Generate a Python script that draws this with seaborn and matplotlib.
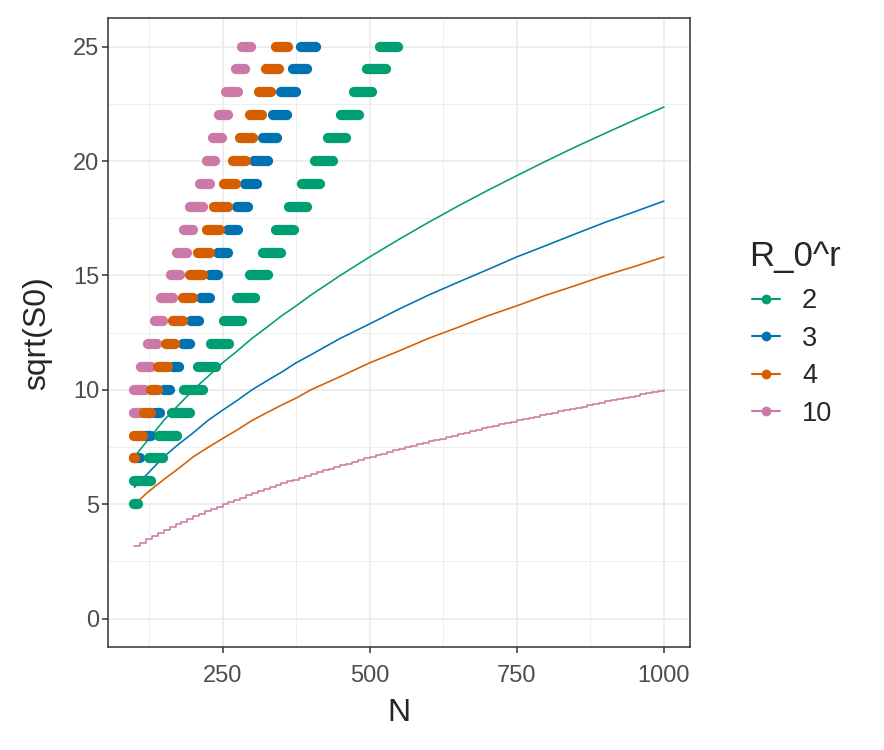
import numpy as np
import pandas as pd
import seaborn as sns
import matplotlib.pyplot as plt
from matplotlib.lines import Line2D
from matplotlib.ticker import MultipleLocator, FixedLocator

# colours per R_0^r level
r_levels = ["2", "3", "4", "10"]
colors = {"2": "#009E73", "3": "#0072B2", "4": "#D55E00", "10": "#CC79A7"}

# curves sqrt(S0) vs N
n_curve = [100, 125, 150, 175, 200, 225, 250, 275, 300, 325, 350, 375, 400, 450, 500,
           550, 600, 650, 700, 750, 800, 850, 900, 950, 1000]
curve_2 = [7.07, 7.87, 8.66, 9.33, 10.00, 10.58, 11.18, 11.70, 12.25, 12.73, 13.23,
           13.67, 14.14, 15.00, 15.81, 16.58, 17.32, 18.03, 18.71, 19.36, 20.00, 20.62,
           21.21, 21.79, 22.36]
curve_3 = [5.74, 6.40, 7.07, 7.62, 8.12, 8.66, 9.11, 9.54, 10.00, 10.39, 10.77, 11.18,
           11.53, 12.25, 12.88, 13.53, 14.14, 14.70, 15.25, 15.81, 16.31, 16.82, 17.32,
           17.78, 18.25]
curve_4 = [5.00, 5.57, 6.08, 6.56, 7.07, 7.48, 7.87, 8.25, 8.66, 9.00, 9.33, 9.64,
           10.00, 10.58, 11.18, 11.70, 12.25, 12.73, 13.23, 13.67, 14.14, 14.56, 15.00,
           15.39, 15.81]
# the R=10 curve is a staircase, one step every 10 N
n_step = list(range(100, 1001, 10))
curve_10 = [3.16, 3.32, 3.46, 3.61, 3.74, 3.87, 4.00, 4.12, 4.24, 4.36, 4.47, 4.58, 4.69,
            4.80, 4.90, 5.00, 5.10, 5.20, 5.29, 5.39, 5.48, 5.57, 5.66, 5.74, 5.83, 5.92,
            6.00, 6.08, 6.16, 6.24, 6.32, 6.40, 6.48, 6.56, 6.63, 6.71, 6.78, 6.86, 6.93,
            7.00, 7.07, 7.14, 7.21, 7.28, 7.35, 7.42, 7.48, 7.55, 7.62, 7.68, 7.75, 7.81,
            7.87, 7.94, 8.00, 8.06, 8.12, 8.19, 8.25, 8.31, 8.37, 8.43, 8.49, 8.54, 8.60,
            8.66, 8.72, 8.77, 8.83, 8.89, 8.94, 9.00, 9.06, 9.11, 9.17, 9.22, 9.27, 9.33,
            9.38, 9.43, 9.49, 9.54, 9.59, 9.64, 9.70, 9.75, 9.80, 9.85, 9.90, 9.95, 10.00]

# runs of points: sqrt(S0) level, first N, last N
k_2 = list(range(5, 26))
start_2 = [100, 100, 125, 142, 164, 185, 208, 230, 252, 274, 296, 318, 341, 363, 385,
           407, 429, 451, 473, 496, 517]
end_2 = [106, 128, 149, 172, 194, 216, 239, 261, 283, 305, 327, 349, 371, 393, 415,
         438, 460, 482, 504, 527, 548]
k_3 = list(range(7, 26))
start_3 = [100, 118, 135, 151, 166, 182, 197, 214, 228, 242, 259, 274, 288, 304, 318,
           335, 350, 369, 383]
end_3 = [109, 128, 143, 160, 176, 195, 210, 228, 243, 260, 276, 294, 309, 327, 342,
         360, 375, 394, 409]
k_4 = list(range(7, 26))
start_4 = [100, 100, 117, 128, 140, 153, 165, 182, 194, 208, 224, 236, 252, 268, 280,
           296, 312, 324, 340]
end_4 = [101, 115, 129, 141, 157, 169, 183, 200, 216, 229, 246, 260, 273, 289, 302,
         317, 333, 346, 362]
k_10 = list(range(9, 26))
start_10 = [100, 100, 112, 123, 135, 145, 162, 173, 185, 195, 212, 223, 234, 244, 256,
            272, 283]
end_10 = [109, 118, 128, 138, 149, 166, 178, 189, 199, 217, 228, 237, 249, 260, 277,
          288, 299]

runs = {"2": (k_2, start_2, end_2), "3": (k_3, start_3, end_3),
        "4": (k_4, start_4, end_4), "10": (k_10, start_10, end_10)}

sns.set_theme(style="white")
plt.rcParams["font.family"] = ["Liberation Sans", "DejaVu Sans"]

fig, ax = plt.subplots(figsize=(8.84, 7.5), dpi=100)
fig.subplots_adjust(left=0.122, right=0.781, top=0.976, bottom=0.137)

df_curve = pd.DataFrame({
    "N": n_curve * 3,
    "y": curve_2 + curve_3 + curve_4,
    "R": ["2"] * len(n_curve) + ["3"] * len(n_curve) + ["4"] * len(n_curve),
})
sns.lineplot(data=df_curve, x="N", y="y", hue="R", palette=colors, linewidth=1.15,
             legend=False, ax=ax, zorder=3)
sns.lineplot(x=n_step, y=curve_10, color=colors["10"], linewidth=1.15,
             drawstyle="steps-post", ax=ax, zorder=3)

# thick rounded runs of points
for r in ["3", "2", "10", "4"]:
    ks, st, en = runs[r]
    rows = []
    for i, (k, a, b) in enumerate(zip(ks, st, en)):
        rows.append({"N": a, "y": k, "seg": i})
        rows.append({"N": b, "y": k, "seg": i})
    d = pd.DataFrame(rows)
    sns.lineplot(data=d, x="N", y="y", units="seg", estimator=None, sort=False,
                 color=colors[r], linewidth=7.4, solid_capstyle="round", ax=ax, zorder=4)

ax.set_xlim(55, 1045)
ax.set_ylim(-1.25, 26.25)
ax.xaxis.set_major_locator(FixedLocator([250, 500, 750, 1000]))
ax.xaxis.set_minor_locator(FixedLocator([125, 375, 625, 875]))
ax.yaxis.set_major_locator(MultipleLocator(5))
ax.yaxis.set_minor_locator(FixedLocator([2.5, 7.5, 12.5, 17.5, 22.5]))
ax.grid(which="major", color="#EBEBEB", linewidth=1.2, zorder=0)
ax.grid(which="minor", color="#EBEBEB", linewidth=0.6, zorder=0)
ax.set_axisbelow(True)
for s in ax.spines.values():
    s.set_color("#333333")
    s.set_linewidth(1.1)
ax.tick_params(which="major", length=4, width=1.1, color="#333333",
               labelsize=17, labelcolor="#4D4D4D", bottom=True, left=True)
ax.tick_params(axis="x", which="major", pad=9)
ax.tick_params(axis="y", which="major", pad=2)
ax.tick_params(which="minor", length=0)
ax.set_xlabel("N", fontsize=23, labelpad=8)
ax.set_ylabel("sqrt(S0)", fontsize=23, labelpad=15)

fig.text(749 / 884, 1 - 266 / 750, "R_0^r", fontsize=25, ha="left", va="baseline")
handles = [Line2D([], [], color=colors[r], marker="o", markersize=6, linewidth=1.5)
           for r in r_levels]
leg = ax.legend(handles, r_levels, loc="center left", bbox_transform=fig.transFigure,
                bbox_to_anchor=(752 / 884, 1 - 357.5 / 750), frameon=False,
                fontsize=19.5, handlelength=1.05, handletextpad=0.8,
                labelspacing=0.42, borderpad=0, borderaxespad=0)

plt.savefig("out.png", dpi=100)
